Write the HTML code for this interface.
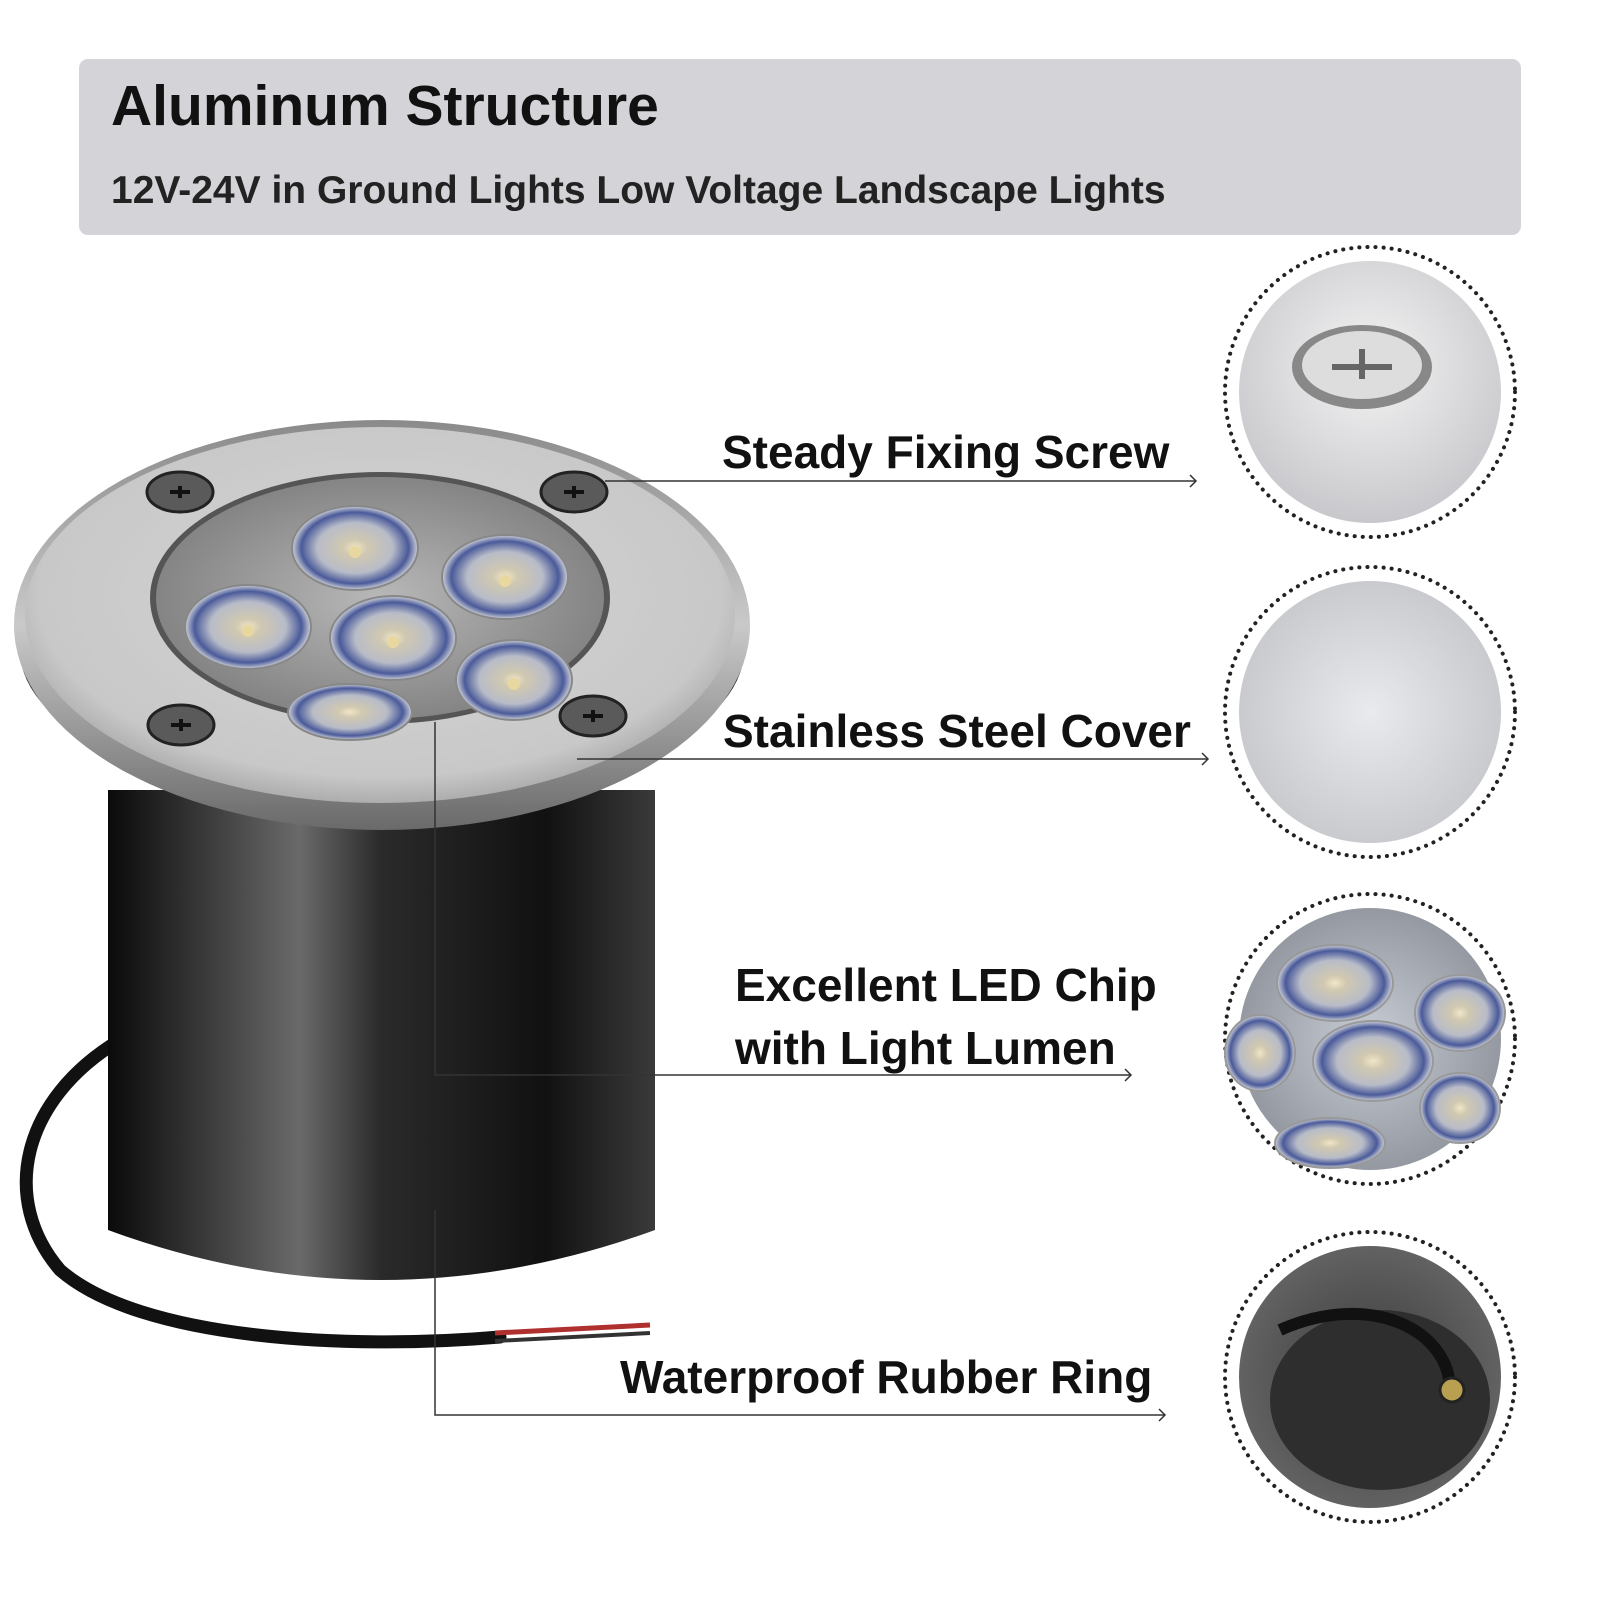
<!DOCTYPE html>
<html><head><style>
body{margin:0;width:1600px;height:1600px;background:#fff;overflow:hidden;font-family:"Liberation Sans",sans-serif}
</style></head><body>
<svg width="1600" height="1600" viewBox="0 0 1600 1600" xmlns="http://www.w3.org/2000/svg" font-family="Liberation Sans, sans-serif">
<defs>
<linearGradient id="body" x1="0" x2="1" y1="0" y2="0">
<stop offset="0" stop-color="#0a0a0a"/><stop offset="0.12" stop-color="#2a2a2a"/><stop offset="0.35" stop-color="#6a6a6a"/><stop offset="0.5" stop-color="#2a2a2a"/><stop offset="0.8" stop-color="#111"/><stop offset="1" stop-color="#3a3a3a"/>
</linearGradient>
<linearGradient id="flange" x1="0" x2="0" y1="0" y2="1">
<stop offset="0" stop-color="#8a8a8a"/><stop offset="0.5" stop-color="#c9c9c9"/><stop offset="1" stop-color="#6a6a6a"/>
</linearGradient>
<radialGradient id="face" cx="0.5" cy="0.45" r="0.6">
<stop offset="0" stop-color="#d6d6d6"/><stop offset="0.8" stop-color="#c8c8c8"/><stop offset="1" stop-color="#9a9a9a"/>
</radialGradient>
<radialGradient id="glass" cx="0.5" cy="0.5" r="0.6">
<stop offset="0" stop-color="#b8b8b8"/><stop offset="1" stop-color="#7a7a7a"/>
</radialGradient>
<radialGradient id="led" cx="0.5" cy="0.5" r="0.5">
<stop offset="0" stop-color="#f0e6c8"/><stop offset="0.2" stop-color="#d0c8b0"/><stop offset="0.6" stop-color="#b8bcc8"/><stop offset="0.85" stop-color="#4a5a9a"/><stop offset="1" stop-color="#cfd2d8"/>
</radialGradient>
<radialGradient id="c1" cx="0.5" cy="0.4" r="0.6"><stop offset="0" stop-color="#f4f4f4"/><stop offset="1" stop-color="#c8c8cc"/></radialGradient>
<radialGradient id="c2" cx="0.5" cy="0.5" r="0.6"><stop offset="0" stop-color="#e8eaee"/><stop offset="1" stop-color="#c2c4c8"/></radialGradient>
<radialGradient id="c3" cx="0.5" cy="0.5" r="0.6"><stop offset="0" stop-color="#c8ccd4"/><stop offset="1" stop-color="#8a8e96"/></radialGradient>
<radialGradient id="c4" cx="0.5" cy="0.5" r="0.6"><stop offset="0" stop-color="#3a3a3a"/><stop offset="1" stop-color="#6a6a6a"/></radialGradient>
</defs>

<!-- header -->
<rect x="79" y="59" width="1442" height="176" rx="9" fill="#d4d4d8"/>
<text x="111" y="125" font-size="57" font-weight="bold" fill="#111">Aluminum Structure</text>
<text x="111" y="203" font-size="39" font-weight="bold" fill="#222">12V-24V in Ground Lights Low Voltage Landscape Lights</text>

<!-- cable -->
<path d="M120 1040 C20 1100 0 1200 60 1270 C140 1340 350 1350 500 1337" fill="none" stroke="#111" stroke-width="13" stroke-linecap="round"/>
<path d="M495 1333 L650 1325" stroke="#b03030" stroke-width="5"/>
<path d="M495 1341 L650 1333" stroke="#333" stroke-width="4"/>

<!-- body -->
<path d="M108 790 L108 1230 Q380 1330 655 1230 L655 790 Z" fill="url(#body)"/>
<ellipse cx="382" cy="650" rx="362" ry="155" fill="#1a1a1a"/>
<ellipse cx="382" cy="625" rx="368" ry="205" fill="url(#flange)"/>
<ellipse cx="380" cy="615" rx="355" ry="188" fill="url(#face)"/>
<!-- glass -->
<ellipse cx="380" cy="598" rx="230" ry="126" fill="#555"/>
<ellipse cx="380" cy="598" rx="224" ry="121" fill="url(#glass)"/>
<g stroke="#888" stroke-width="2">
<ellipse cx="355" cy="548" rx="63" ry="42" fill="url(#led)"/>
<ellipse cx="505" cy="577" rx="63" ry="42" fill="url(#led)"/>
<ellipse cx="248" cy="627" rx="63" ry="42" fill="url(#led)"/>
<ellipse cx="393" cy="638" rx="63" ry="42" fill="url(#led)"/>
<ellipse cx="514" cy="680" rx="58" ry="40" fill="url(#led)"/>
<ellipse cx="350" cy="712" rx="62" ry="28" fill="url(#led)"/>
</g>
<g fill="#e8d8a0"><circle cx="355" cy="552" r="6"/><circle cx="505" cy="581" r="6"/><circle cx="248" cy="631" r="6"/><circle cx="393" cy="642" r="6"/><circle cx="514" cy="684" r="6"/></g>
<g fill="#5a5a5a" stroke="#222" stroke-width="3">
<ellipse cx="180" cy="492" rx="33" ry="20"/><ellipse cx="574" cy="492" rx="33" ry="20"/>
<ellipse cx="181" cy="725" rx="33" ry="20"/><ellipse cx="593" cy="716" rx="33" ry="20"/>
</g>
<g stroke="#111" stroke-width="4"><path d="M170 492h20M180 486v12M564 492h20M574 486v12M171 725h20M181 719v12M583 716h20M593 710v12"/></g>

<!-- leader lines -->
<g stroke="#333" stroke-width="1.5" fill="none">
<path d="M605 481 H1196"/><path d="M1190 475 L1196 481 L1190 487"/>
<path d="M577 759 H1208"/><path d="M1202 753 L1208 759 L1202 765"/>
<path d="M435 722 V1075 H1131"/><path d="M1125 1069 L1131 1075 L1125 1081"/>
<path d="M435 1210 V1415 H1165"/><path d="M1159 1409 L1165 1415 L1159 1421"/>
</g>
<g font-size="46" font-weight="bold" fill="#111">
<text x="722" y="468">Steady Fixing Screw</text>
<text x="723" y="747">Stainless Steel Cover</text>
<text x="735" y="1001">Excellent LED Chip</text>
<text x="735" y="1064">with Light Lumen</text>
<text x="620" y="1393">Waterproof Rubber Ring</text>
</g>

<!-- detail circles -->
<g stroke="#222" stroke-width="4" stroke-dasharray="0.1 8" stroke-linecap="round">
<circle cx="1370" cy="392" r="145" fill="#fff"/>
<circle cx="1370" cy="712" r="145" fill="#fff"/>
<circle cx="1370" cy="1039" r="145" fill="#fff"/>
<circle cx="1370" cy="1377" r="145" fill="#fff"/>
</g>
<circle cx="1370" cy="392" r="131" fill="url(#c1)"/>
<ellipse cx="1362" cy="367" rx="70" ry="42" fill="#888"/>
<ellipse cx="1362" cy="365" rx="60" ry="34" fill="#ddd"/>
<path d="M1332 367h60M1362 349v30" stroke="#666" stroke-width="6"/>
<circle cx="1370" cy="712" r="131" fill="url(#c2)"/>
<circle cx="1370" cy="1039" r="131" fill="url(#c3)"/>
<g stroke="#999" stroke-width="2" fill="url(#led)">
<ellipse cx="1335" cy="983" rx="58" ry="38"/><ellipse cx="1460" cy="1013" rx="45" ry="38"/>
<ellipse cx="1373" cy="1061" rx="60" ry="40"/><ellipse cx="1260" cy="1053" rx="35" ry="38"/>
<ellipse cx="1460" cy="1108" rx="40" ry="35"/><ellipse cx="1330" cy="1143" rx="55" ry="25"/>
</g>
<circle cx="1370" cy="1377" r="131" fill="url(#c4)"/>
<ellipse cx="1380" cy="1400" rx="110" ry="90" fill="#2e2e2e"/>
<path d="M1280 1330 C1370 1290 1450 1330 1450 1390" fill="none" stroke="#111" stroke-width="12"/>
<circle cx="1452" cy="1390" r="12" fill="#b8a050" stroke="#222" stroke-width="3"/>
</svg>
</body></html>
